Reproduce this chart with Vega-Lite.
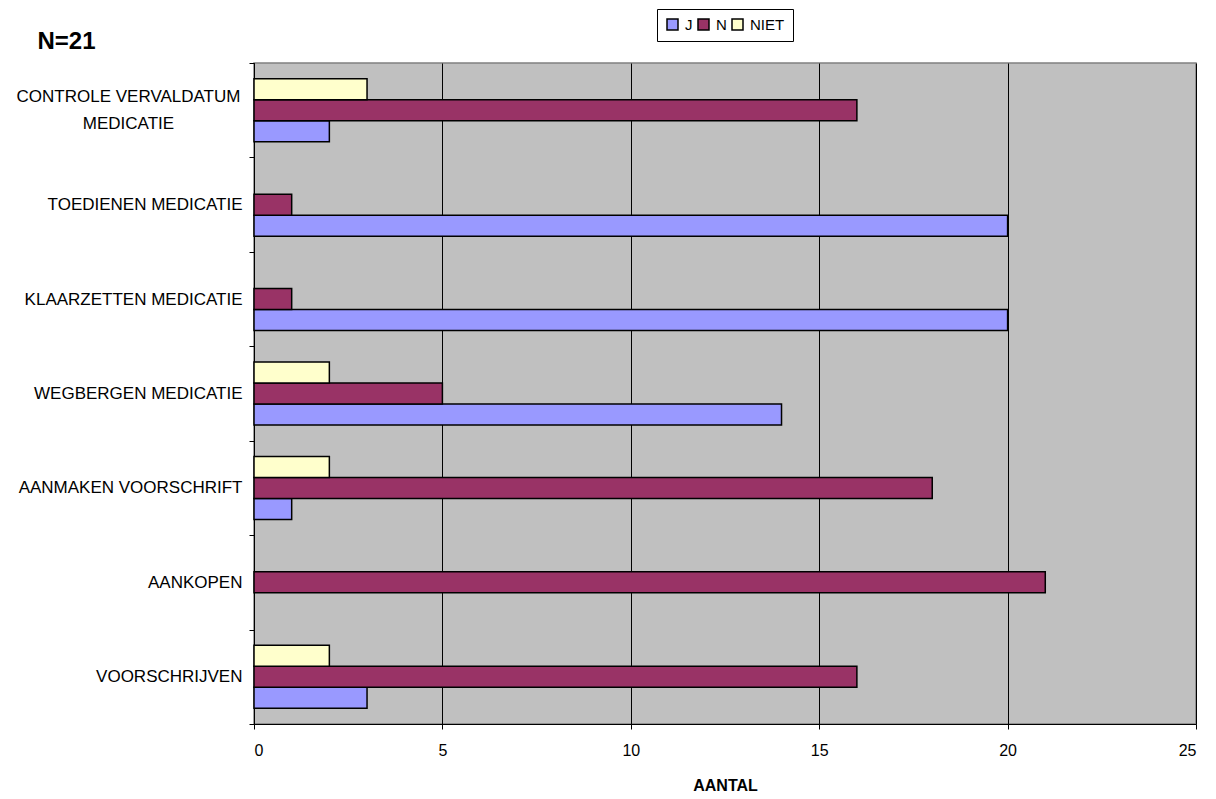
{
  "$schema": "https://vega.github.io/schema/vega-lite/v6.json",
  "width": 942,
  "height": 661,
  "autosize": {"type": "none"},
  "padding": {"left": 254, "top": 63, "right": 20, "bottom": 75},
  "background": "white",
  "config": {
    "font": "Liberation Sans",
    "view": {"fill": "#C0C0C0", "stroke": "#808080", "strokeWidth": 1.5}
  },
  "data": {
    "values": [
      {"taak": "CONTROLE VERVALDATUM MEDICATIE", "serie": "J", "aantal": 2},
      {"taak": "CONTROLE VERVALDATUM MEDICATIE", "serie": "N", "aantal": 16},
      {"taak": "CONTROLE VERVALDATUM MEDICATIE", "serie": "NIET", "aantal": 3},
      {"taak": "TOEDIENEN MEDICATIE", "serie": "J", "aantal": 20},
      {"taak": "TOEDIENEN MEDICATIE", "serie": "N", "aantal": 1},
      {"taak": "KLAARZETTEN MEDICATIE", "serie": "J", "aantal": 20},
      {"taak": "KLAARZETTEN MEDICATIE", "serie": "N", "aantal": 1},
      {"taak": "WEGBERGEN MEDICATIE", "serie": "J", "aantal": 14},
      {"taak": "WEGBERGEN MEDICATIE", "serie": "N", "aantal": 5},
      {"taak": "WEGBERGEN MEDICATIE", "serie": "NIET", "aantal": 2},
      {"taak": "AANMAKEN VOORSCHRIFT", "serie": "J", "aantal": 1},
      {"taak": "AANMAKEN VOORSCHRIFT", "serie": "N", "aantal": 18},
      {"taak": "AANMAKEN VOORSCHRIFT", "serie": "NIET", "aantal": 2},
      {"taak": "AANKOPEN", "serie": "N", "aantal": 21},
      {"taak": "VOORSCHRIJVEN", "serie": "J", "aantal": 3},
      {"taak": "VOORSCHRIJVEN", "serie": "N", "aantal": 16},
      {"taak": "VOORSCHRIJVEN", "serie": "NIET", "aantal": 2}
    ]
  },
  "mark": {"type": "bar", "stroke": "black", "strokeWidth": 1.5},
  "encoding": {
    "y": {
      "field": "taak",
      "type": "nominal",
      "sort": [
        "CONTROLE VERVALDATUM MEDICATIE",
        "TOEDIENEN MEDICATIE",
        "KLAARZETTEN MEDICATIE",
        "WEGBERGEN MEDICATIE",
        "AANMAKEN VOORSCHRIFT",
        "AANKOPEN",
        "VOORSCHRIJVEN"
      ],
      "scale": {"paddingInner": 0, "paddingOuter": 0},
      "axis": {
        "title": "N=21",
        "titleAngle": 0,
        "titleX": -217,
        "titleY": -15,
        "titleAlign": "left",
        "titleBaseline": "alphabetic",
        "titleFontSize": 24,
        "titleFontWeight": "bold",
        "titleColor": "black",
        "labelFontSize": 17,
        "labelColor": "black",
        "labelPadding": {
          "condition": {"test": "datum.value == 'CONTROLE VERVALDATUM MEDICATIE'", "value": 121},
          "value": 7
        },
        "labelAlign": {
          "condition": {"test": "datum.value == 'CONTROLE VERVALDATUM MEDICATIE'", "value": "center"},
          "value": "right"
        },
        "labelOffset": {
          "condition": {"test": "datum.value == 'CONTROLE VERVALDATUM MEDICATIE'", "value": -13.5},
          "value": 0
        },
        "labelLimit": 0,
        "labelLineHeight": 27,
        "labelExpr": "datum.value == 'CONTROLE VERVALDATUM MEDICATIE' ? ['CONTROLE VERVALDATUM', 'MEDICATIE'] : datum.value",
        "tickSize": 5,
        "tickBand": "extent",
        "tickColor": "black",
        "domainColor": "black",
        "grid": false
      }
    },
    "yOffset": {
      "field": "serie",
      "type": "nominal",
      "scale": {"domain": ["NIET", "N", "J"], "paddingInner": 0, "paddingOuter": 0.748}
    },
    "x": {
      "field": "aantal",
      "type": "quantitative",
      "scale": {"domain": [0, 25], "nice": false},
      "axis": {
        "title": "AANTAL",
        "titleFontSize": 16,
        "titleFontWeight": "bold",
        "titleColor": "black",
        "titlePadding": 19,
        "values": [0, 5, 10, 15, 20, 25],
        "labelFontSize": 16,
        "labelColor": "black",
        "labelPadding": 13,
        "tickSize": 5,
        "tickColor": "black",
        "domainColor": "black",
        "grid": true,
        "gridColor": "black",
        "gridOpacity": 1,
        "gridWidth": 1
      }
    },
    "color": {
      "field": "serie",
      "type": "nominal",
      "scale": {"domain": ["J", "N", "NIET"], "range": ["#9999FF", "#993366", "#FFFFCC"]},
      "legend": {
        "title": null,
        "orient": "none",
        "direction": "horizontal",
        "legendX": 403,
        "legendY": -54,
        "padding": 8,
        "strokeColor": "black",
        "fillColor": "white",
        "symbolType": "square",
        "symbolSize": 121,
        "symbolStrokeColor": "black",
        "symbolStrokeWidth": 1.5,
        "symbolOpacity": 1,
        "labelFontSize": 15,
        "labelColor": "black",
        "labelOffset": 5,
        "columnPadding": 2
      }
    }
  }
}
